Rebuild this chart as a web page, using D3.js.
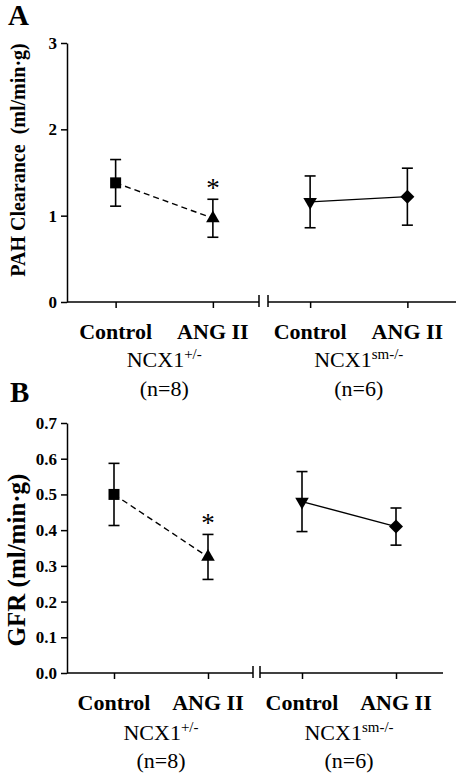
<!DOCTYPE html>
<html>
<head>
<meta charset="utf-8">
<script src="https://cdn.jsdelivr.net/npm/d3@7/dist/d3.min.js"></script>
<style>
  html, body { margin: 0; padding: 0; background: #fff; }
  svg { display: block; }
  text { font-family: "Liberation Serif", "Times New Roman", serif; fill: #000; }
</style>
</head>
<body>
<svg id="chart" width="457" height="774"></svg>
<script>
// ---------- data ----------
const categories = ["Control", "ANG II", "Control", "ANG II"];
const groupNames = ["NCX1", "NCX1"];
const groupSups = ["+/-", "sm-/-"];
const groupN = ["(n=8)", "(n=6)"];
const markerTypes = ["square", "triangle", "triangleDown", "diamond"];

const pahMean = [1.38, 0.97, 1.16, 1.22];
const pahSem  = [0.27, 0.22, 0.30, 0.33];
const pahTicks = [0, 1, 2, 3];
const pahTickLabels = ["0", "1", "2", "3"];

const gfrMean = [0.50, 0.325, 0.48, 0.41];
const gfrSem  = [0.087, 0.063, 0.084, 0.052];
const gfrTicks = [0, 0.1, 0.2, 0.3, 0.4, 0.5, 0.6, 0.7];
const gfrTickLabels = ["0.0", "0.1", "0.2", "0.3", "0.4", "0.5", "0.6", "0.7"];

const significant = [false, true, false, false];

// ---------- drawing ----------
const svg = d3.select("#chart");

function markerPath(type) {
  if (type === "square") return d3.symbol(d3.symbolSquare, 121)();
  if (type === "triangle" || type === "triangleDown") return d3.symbol(d3.symbolTriangle, 80)();
  return d3.symbol(d3.symbolSquare, 98)(); // diamond = rotated square
}
function markerRotate(type) {
  if (type === "triangleDown") return 180;
  if (type === "diamond") return 45;
  return 0;
}

function drawPanel(cfg) {
  const g = svg.append("g");
  const x = d3.scalePoint().domain(d3.range(categories.length)).range(cfg.xRange).padding(0.5);
  const y = d3.scaleLinear().domain([0, cfg.yMax]).range(cfg.yRange);
  const x0 = cfg.xRange[0], x1 = cfg.xRange[1], yb = cfg.yRange[0];

  g.append("text").attr("x", cfg.letterX).attr("y", cfg.letterY)
    .attr("font-size", 29).attr("font-weight", "bold").text(cfg.letter);

  const yAxis = d3.axisLeft(y).tickValues(cfg.ticks)
    .tickFormat((d, i) => cfg.tickLabels[i]).tickSize(6).tickSizeOuter(0).tickPadding(4);
  const ya = g.append("g").attr("transform", `translate(${x0},0)`).call(yAxis);
  ya.select(".domain").attr("stroke", "#000").attr("stroke-width", 1.5);
  ya.selectAll(".tick line").attr("stroke", "#000").attr("stroke-width", 1.5);
  ya.selectAll(".tick text").attr("font-size", cfg.tickFont).attr("font-weight", "bold").attr("fill", "#000");

  const xAxis = d3.axisBottom(x).tickFormat("").tickSize(6).tickSizeOuter(0);
  const xa = g.append("g").attr("transform", `translate(0,${yb})`).call(xAxis);
  xa.select(".domain").remove();
  xa.selectAll(".tick line").attr("stroke", "#000").attr("stroke-width", 1.5);
  const bx = (x(1) + x(2)) / 2 + cfg.breakShift;
  const gap = cfg.breakGap / 2;
  g.append("line").attr("x1", x0).attr("x2", bx - gap).attr("y1", yb).attr("y2", yb)
    .attr("stroke", "#000").attr("stroke-width", 1.5);
  g.append("line").attr("x1", bx + gap).attr("x2", x1).attr("y1", yb).attr("y2", yb)
    .attr("stroke", "#000").attr("stroke-width", 1.5);
  [bx - gap, bx + gap].forEach(bxx => {
    g.append("line").attr("x1", bxx).attr("x2", bxx).attr("y1", yb - 7).attr("y2", yb + 5)
      .attr("stroke", "#000").attr("stroke-width", 1.5);
  });

  const line = d3.line().x(d => x(d.i)).y(d => y(d.v));
  [[0, 1, "6,4"], [2, 3, null]].forEach(([a, b, dash]) => {
    g.append("path").datum([{ i: a, v: cfg.mean[a] }, { i: b, v: cfg.mean[b] }])
      .attr("d", line).attr("fill", "none").attr("stroke", "#000").attr("stroke-width", 1.4)
      .attr("stroke-dasharray", dash);
  });

  const capW = 11;
  cfg.mean.forEach((m, i) => {
    const top = y(m + cfg.sem[i]), bot = y(m - cfg.sem[i]);
    g.append("line").attr("x1", x(i)).attr("x2", x(i)).attr("y1", top).attr("y2", bot)
      .attr("stroke", "#000").attr("stroke-width", 1.6);
    [top, bot].forEach(yy => g.append("line").attr("x1", x(i) - capW / 2).attr("x2", x(i) + capW / 2)
      .attr("y1", yy).attr("y2", yy).attr("stroke", "#000").attr("stroke-width", 1.6));
  });

  cfg.mean.forEach((m, i) => {
    g.append("path").attr("d", markerPath(markerTypes[i]))
      .attr("transform", `translate(${x(i)},${y(m)}) rotate(${markerRotate(markerTypes[i])})`)
      .attr("fill", "#000");
  });

  cfg.mean.forEach((m, i) => {
    if (!significant[i]) return;
    g.append("text").attr("x", x(i)).attr("y", y(m + cfg.sem[i]) - 2)
      .attr("text-anchor", "middle").attr("font-size", 27).text("*");
  });

  categories.forEach((c, i) => {
    g.append("text").attr("x", x(i)).attr("y", yb + cfg.catDy)
      .attr("text-anchor", "middle").attr("font-size", 22).attr("font-weight", "bold").text(c);
  });

  [[0, 1], [2, 3]].forEach(([a, b], k) => {
    const cx = (x(a) + x(b)) / 2;
    const t = g.append("text").attr("x", cx).attr("y", yb + cfg.grpDy)
      .attr("text-anchor", "middle").attr("font-size", 22);
    t.append("tspan").text(groupNames[k]);
    t.append("tspan").attr("font-size", 15).attr("dy", -8).text(groupSups[k]);
    g.append("text").attr("x", cx).attr("y", yb + cfg.nDy)
      .attr("text-anchor", "middle").attr("font-size", 22).text(groupN[k]);
  });

  g.append("text")
    .attr("transform", `translate(${cfg.titleX},${cfg.titleY}) rotate(-90)`)
    .attr("text-anchor", "middle").attr("font-size", cfg.titleFont).attr("font-weight", "bold")
    .text(cfg.title);
}

drawPanel({
  letter: "A", letterX: 8, letterY: 25,
  xRange: [67, 456], yRange: [302, 43], yMax: 3,
  ticks: pahTicks, tickLabels: pahTickLabels, tickFont: 17,
  mean: pahMean, sem: pahSem,
  breakShift: 2, breakGap: 9,
  catDy: 37, grpDy: 65, nDy: 94,
  title: "PAH Clearance\u00A0 (ml/min\u00B7g)", titleX: 25, titleY: 160, titleFont: 20
});

drawPanel({
  letter: "B", letterX: 10, letterY: 402,
  xRange: [67, 443], yRange: [673, 423], yMax: 0.7,
  ticks: gfrTicks, tickLabels: gfrTickLabels, tickFont: 17,
  mean: gfrMean, sem: gfrSem,
  breakShift: 1.5, breakGap: 7,
  catDy: 37, grpDy: 67, nDy: 95,
  title: "GFR (ml/min\u00B7g)", titleX: 25, titleY: 560, titleFont: 25
});
</script>
</body>
</html>
